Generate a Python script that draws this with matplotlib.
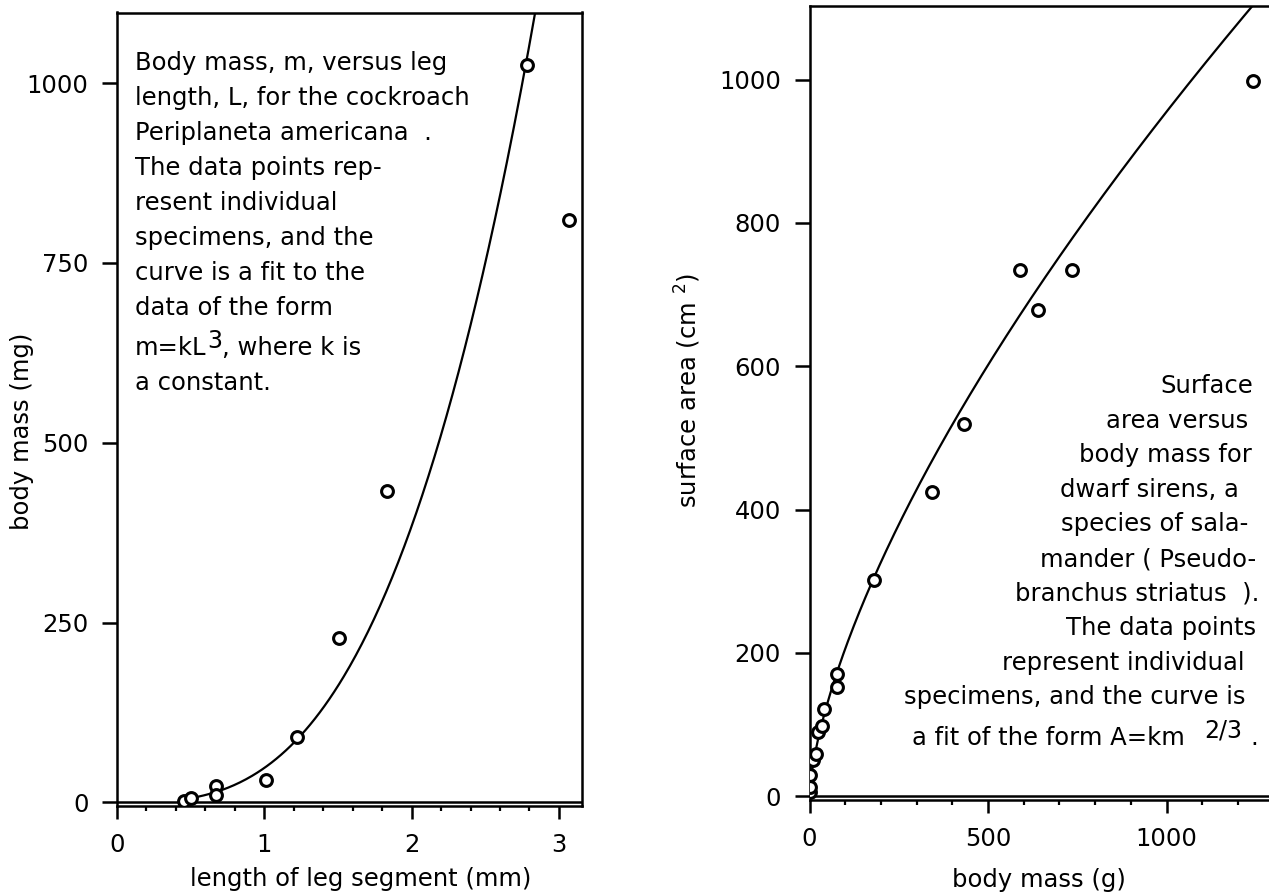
import numpy as np
import matplotlib
matplotlib.use('Agg')
import matplotlib.pyplot as plt
from matplotlib.ticker import MultipleLocator

W, H = 1269, 893

# cockroach: leg segment length (mm) vs body mass (mg)
leg_len = [0.455, 0.50, 0.675, 0.675, 1.01, 1.223, 1.51, 1.83, 2.78, 3.07]
leg_mass = [2.5, 5.8, 23, 10, 31, 91, 228, 433, 1025, 810]
k_leg = 48.0          # m = k L^3

# dwarf sirens: body mass (g) vs surface area (cm2)
siren_mass = [1.9, 1.9, 2.8, 9.3, 18.7, 25, 34.5, 42, 76.6, 76.6,
              180, 342, 432, 590, 639, 736, 1243]
siren_area = [6, 13, 29, 50, 59, 90, 98, 122, 153, 170,
              302, 424, 519, 734, 678, 734, 998]
k_siren = 9.55        # A = k m^(2/3)

left_yticks = [0, 250, 500, 750, 1000]
right_yticks = [0, 200, 400, 600, 800, 1000]

plt.rcParams['font.family'] = ['DejaVu Sans']
plt.rcParams['font.size'] = 17.5


def fx(px):
    return px / W


def fy(py):
    return 1 - py / H


def style_axes(ax):
    for s in ax.spines.values():
        s.set_linewidth(1.8)
    ax.tick_params(axis='y', direction='out', length=10.5, width=1.8, pad=10)
    ax.tick_params(axis='x', which='major', direction='out', length=9, width=1.8, pad=11)
    ax.tick_params(axis='x', which='minor', direction='out', length=3.5, width=1.6)
    ax.axhline(0, color='black', lw=1.8, zorder=2)


fig = plt.figure(figsize=(W / 100, H / 100), dpi=100)

# ---- left panel
ax1 = fig.add_axes([fx(117), fy(805.7), (582.5 - 117) / W, (805.7 - 12.5) / H])
L = np.linspace(min(leg_len) - 0.005, 2.9, 300)
ax1.plot(L, k_leg * L ** 3, color='black', lw=1.6, zorder=3)
ax1.plot(leg_len, leg_mass, 'o', ms=8.5, mfc='white', mec='black', mew=2.2, zorder=4)
ax1.set_xlim(0, 3.16)
ax1.set_ylim(-4.5, 1098)
ax1.set_yticks(left_yticks)
ax1.xaxis.set_major_locator(MultipleLocator(1))
ax1.xaxis.set_minor_locator(MultipleLocator(0.2))
style_axes(ax1)
ax1.set_xlabel('length of leg segment (mm)')
ax1.set_ylabel('body mass (mg)')
ax1.xaxis.set_label_coords(0.524, -0.0769)
ax1.yaxis.set_label_coords(-0.178, 0.4724)

# ---- right panel
ax2 = fig.add_axes([fx(809.5), fy(799.5), (W - 809.5) / W, (799.5 - 6.4) / H])
M = np.linspace(0, 1300, 400)
ax2.plot(M, k_siren * M ** (2 / 3), color='black', lw=1.6, zorder=3)
ax2.plot(siren_mass, siren_area, 'o', ms=8.5, mfc='white', mec='black', mew=2.2, zorder=4)
ax2.set_xlim(0, (W - 809.5) / 0.357)
ax2.set_ylim(-4.5, 1102)
ax2.set_yticks(right_yticks)
ax2.xaxis.set_major_locator(MultipleLocator(500))
ax2.xaxis.set_minor_locator(MultipleLocator(100))
ax2.spines['right'].set_visible(False)
style_axes(ax2)
ax2.set_xlabel('body mass (g)')
ax2.set_ylabel('surface area (cm $^{2}$)')
ax2.xaxis.set_label_coords(0.5, -0.0864)
ax2.yaxis.set_label_coords(-0.232, 0.516)

# ---- captions
left_lines = ['Body mass, m, versus leg',
              'length, L, for the cockroach',
              'Periplaneta americana  .',
              'The data points rep-',
              'resent individual',
              'specimens, and the',
              'curve is a fit to the',
              'data of the form']
for i, s in enumerate(left_lines):
    fig.text(fx(135), fy(70 + 35 * i), s, va='baseline')
t1 = fig.text(fx(135), fy(355), 'm=kL', va='baseline')
t2 = ax1.annotate('3', xy=(1, 0), xycoords=t1, xytext=(1, 7),
                  textcoords='offset pixels', va='bottom', fontsize=17)
ax1.annotate(', where k is', xy=(1, 0), xycoords=t2, xytext=(0, -7),
             textcoords='offset pixels', va='bottom')
fig.text(fx(135), fy(390), 'a constant.', va='baseline')

right_lines = ['Surface', 'area versus', 'body mass for', 'dwarf sirens, a',
               'species of sala-', 'mander ( Pseudo-', 'branchus striatus  ).',
               'The data points', 'represent individual',
               'specimens, and the curve is']
right_edges = [1253, 1248, 1252, 1239, 1248, 1256, 1259, 1256, 1245, 1245]
for i, (s, r) in enumerate(zip(right_lines, right_edges)):
    fig.text(fx(r), fy(393 + 34.6 * i), s, ha='right', va='baseline')
t_dot = fig.text(fx(1258.5), fy(745), '.', ha='right', va='baseline')
t_sup = ax2.annotate('2/3', xy=(0, 0), xycoords=t_dot, xytext=(-9, 7),
                     textcoords='offset pixels', ha='right', va='bottom', fontsize=17)
ax2.annotate('a fit of the form A=km', xy=(0, 0), xycoords=t_sup, xytext=(-19, -7),
             textcoords='offset pixels', ha='right', va='bottom')

fig.savefig('out.png', dpi=100)
